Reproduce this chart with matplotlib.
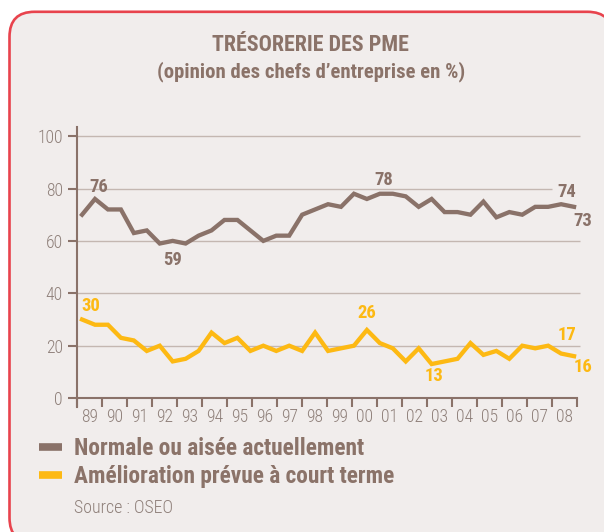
import matplotlib
matplotlib.use("Agg")
import matplotlib.pyplot as plt
from matplotlib import font_manager
from matplotlib.patches import FancyBboxPatch
from matplotlib.lines import Line2D
import numpy as np

# ---------------- data ----------------
title = "TRÉSORERIE DES PME"
subtitle = "(opinion des chefs d\u2019entreprise en %)"
source = "Source : OSEO"
year_labels = ["89", "90", "91", "92", "93", "94", "95", "96", "97", "98",
               "99", "00", "01", "02", "03", "04", "05", "06", "07", "08"]
series_names = ["Normale ou aisée actuellement", "Amélioration prévue à court terme"]
normale = [70, 76, 72, 72, 63, 64, 59, 60, 59, 62,
           64, 68, 68, 64, 60, 62, 62, 70, 72, 74,
           73, 78, 76, 78, 78, 77, 73, 76, 71, 71,
           70, 75, 69, 71, 70, 73, 73, 74, 73]
amelioration = [30, 28, 28, 23, 22, 18, 20, 14, 15, 18,
                25, 21, 23, 18, 20, 18, 20, 18, 25, 18,
                19, 20, 26, 21, 19, 14, 19, 13, 14, 15,
                21, 16.5, 18, 15, 20, 19, 20, 17, 16]
y_ticks = [0, 20, 40, 60, 80, 100]
# annotated points: (point index, offset px)
labels_brown = [(1, (4, 12)), (6, (13, -16)), (23, (4, 14)), (37, (6, 12)), (38, (9, -14))]
labels_yellow = [(0, (9, 14)), (22, (0, 17)), (27, (2, -12)), (37, (6, 19)), (38, (9, -11))]

# ---------------- style ----------------
W, H = 604, 532
BROWN = "#8a7269"
YELLOW = "#fdb913"
TXT = "#8b7369"
TICKTXT = "#8f807a"
GRID = "#c4b7b1"
BG = "#f1edec"
RED = "#e8434d"

available = {f.name for f in font_manager.fontManager.ttflist}
main_font = "Liberation Sans"
for cand in ["Liberation Sans Narrow", "Roboto Condensed", "Open Sans Condensed",
             "DejaVu Sans Condensed"]:
    if cand in available:
        main_font = cand
        break
FAM = [main_font, "Liberation Sans", "DejaVu Sans"]
plt.rcParams["font.family"] = FAM
LIGHT = "light"

fig = plt.figure(figsize=(W / 100, H / 100), dpi=100)
fig.patch.set_facecolor("white")

# background rounded frame (1 unit = 1 px)
bg = fig.add_axes([0, 0, 1, 1])
bg.set_xlim(0, W)
bg.set_ylim(H, 0)
bg.axis("off")
bg.add_patch(FancyBboxPatch((9.5, 11.8), 603, 531,
                            boxstyle="round,pad=0,rounding_size=25",
                            facecolor=BG, edgecolor=RED, linewidth=1.9))

renderer = fig.canvas.get_renderer()


def fit_size(text, target_px, weight):
    t = fig.text(0, 0, text, fontsize=10, fontweight=weight)
    w = t.get_window_extent(renderer=renderer).width
    t.remove()
    return 10 * target_px / w


def fx(px):
    return px / W


def fy(py):
    return 1 - py / H


# titles
fig.text(fx(310), fy(45), title, ha="center", va="center", color=TXT,
         fontweight="bold", fontsize=fit_size(title, 197, "bold"))
fig.text(fx(311), fy(72), subtitle, ha="center", va="center", color=TXT,
         fontweight="bold", fontsize=fit_size(subtitle, 308, "bold"))

# ---------------- main axes ----------------
px_per_unit = 2.62
y0_px = 398.1
ylo, yhi = -3.4, 103.5
top_px = y0_px - yhi * px_per_unit
bot_px = y0_px - ylo * px_per_unit
ax = fig.add_axes([fx(77.3), fy(bot_px), 500 / W, (bot_px - top_px) / H])
ax.set_facecolor("none")
ax.set_xlim(1989, 2009)
ax.set_ylim(ylo, yhi)

n = len(normale)
x = np.linspace(1989.19, 2008.87, n)

# grid lines
for v in y_ticks[1:]:
    xend = 2008.0 if v == 80 else 2009.1
    ax.plot([1989, xend], [v, v], color=GRID, lw=1.0, zorder=1, clip_on=False,
            solid_capstyle="butt")

ax.plot(x, normale, color=BROWN, lw=3.1, zorder=3, solid_joinstyle="miter",
        label=series_names[0])
ax.plot(x, amelioration, color=YELLOW, lw=3.1, zorder=3, solid_joinstyle="miter",
        label=series_names[1])

lab_size = fit_size("76", 19, "bold")
for idx, (dx, dy) in labels_brown:
    ax.annotate(f"{normale[idx]:g}", (x[idx], normale[idx]), xytext=(dx, dy),
                textcoords="offset pixels", ha="center", va="center",
                color=BROWN, fontweight="bold", fontsize=lab_size, zorder=4)
for idx, (dx, dy) in labels_yellow:
    ax.annotate(f"{amelioration[idx]:g}", (x[idx], amelioration[idx]), xytext=(dx, dy),
                textcoords="offset pixels", ha="center", va="center",
                color=YELLOW, fontweight="bold", fontsize=lab_size, zorder=4)

for s in ["top", "right"]:
    ax.spines[s].set_visible(False)
ax.spines["left"].set_color(BROWN)
ax.spines["left"].set_linewidth(1.5)
ax.spines["bottom"].set_color(BROWN)
ax.spines["bottom"].set_linewidth(1.5)
ax.spines["bottom"].set_position(("data", 0))

tick_size = fit_size("100", 26, LIGHT)
ax.set_yticks(y_ticks)
ax.set_yticklabels([str(v) for v in y_ticks], fontweight=LIGHT)
ax.tick_params(axis="y", direction="out", length=6.5, width=1.5, color=BROWN,
               labelcolor=TICKTXT, labelsize=tick_size, pad=4)

ax.set_xticks(np.arange(1989, 2010))
ax.set_xticklabels([])
ax.set_xticks(np.arange(1989, 2009) + 0.5, minor=True)
ax.set_xticklabels(year_labels, minor=True, fontweight=LIGHT)
ax.tick_params(axis="x", which="major", direction="out", length=6.5, width=1.5,
               color=BROWN)
ax.tick_params(axis="x", which="minor", length=0, labelcolor=TICKTXT,
               labelsize=tick_size, pad=7)

# ---------------- legend ----------------
leg_size = fit_size(series_names[0], 290, "bold")
handles = [Line2D([0], [0], color=BROWN, lw=5.5, solid_capstyle="butt"),
           Line2D([0], [0], color=YELLOW, lw=5.5, solid_capstyle="butt")]
leg_px = leg_size / 0.72
leg = fig.legend(handles, series_names, loc="upper left",
                 bbox_to_anchor=(fx(38.5), fy(437)), frameon=False,
                 prop={"weight": "bold", "size": leg_size},
                 handlelength=23 / leg_px, handletextpad=12 / leg_px,
                 labelspacing=(28.5 - leg_px * 1.0) / leg_px,
                 borderpad=0, borderaxespad=0)
for t in leg.get_texts():
    t.set_color(TXT)

fig.text(fx(74), fy(508), source, ha="left", va="center", color=TICKTXT,
         fontweight=LIGHT, fontsize=fit_size(source, 99, LIGHT))

fig.savefig("out.png", dpi=100, facecolor="white")
